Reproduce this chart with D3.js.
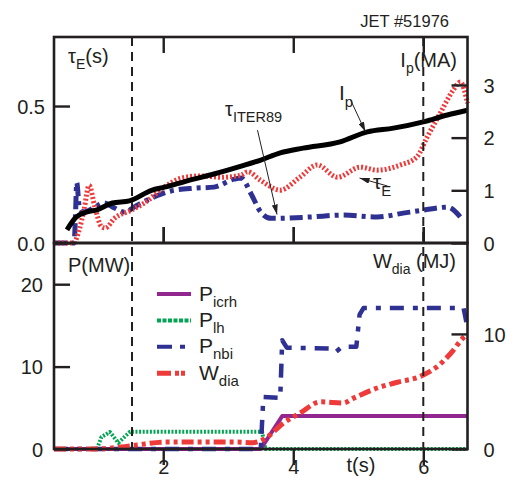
<!DOCTYPE html>
<html>
<head>
<meta charset="utf-8">
<script src="https://cdn.jsdelivr.net/npm/d3@7"></script>
<style>
  body { margin: 0; background: #fff; }
  text { font-family: "Liberation Sans", Arial, Helvetica, sans-serif; fill: #231f20; }
</style>
</head>
<body>
<div id="chart-area"></div>
<script>
// ---- data ----
// top panel: plasma current (MA, right axis)
var ipTime = [0.52, 0.66, 0.83, 0.98, 1.22, 1.48, 1.82, 2.02, 2.37, 2.78, 3.2, 3.49, 3.8, 4.15, 4.72, 5.14, 5.54, 6.0, 6.37, 6.68];
var ipVals = [0.25, 0.49, 0.59, 0.63, 0.76, 0.80, 1.0, 1.06, 1.18, 1.31, 1.46, 1.57, 1.71, 1.80, 1.92, 2.11, 2.18, 2.30, 2.43, 2.52];

// top panel: tau_E (s, left axis)
var tauTime = [0.32, 0.62, 0.71, 0.78, 0.86, 0.95, 1.05, 1.11, 1.25, 1.51, 1.71, 2.02, 2.28, 2.58, 2.9, 3.2, 3.3, 3.49, 3.8, 4.1, 4.37, 4.68, 5.03, 5.29, 5.65, 5.9, 6.06, 6.26, 6.46, 6.57, 6.68];
var tauVals = [0, 0, 0.05, 0.12, 0.21, 0.13, 0.06, 0.055, 0.09, 0.12, 0.146, 0.205, 0.237, 0.245, 0.24, 0.248, 0.26, 0.23, 0.193, 0.24, 0.285, 0.24, 0.277, 0.266, 0.285, 0.314, 0.387, 0.474, 0.558, 0.588, 0.51];

// top panel: tau_ITER89 (s, left axis)
var iterTime = [0.32, 0.63, 0.65, 0.67, 0.71, 0.78, 0.94, 1.09, 1.25, 1.4, 1.6, 1.86, 2.12, 2.48, 2.78, 3.09, 3.2, 3.35, 3.5, 3.66, 3.75, 4.26, 4.77, 5.29, 5.69, 6.0, 6.37, 6.57];
var iterVals = [0, 0, 0.1, 0.22, 0.13, 0.113, 0.13, 0.146, 0.128, 0.113, 0.138, 0.168, 0.19, 0.2, 0.204, 0.233, 0.237, 0.18, 0.113, 0.09, 0.09, 0.095, 0.102, 0.095, 0.109, 0.12, 0.131, 0.095];

// bottom panel: heating powers (MW, left axis)
var icrhTime = [0.32, 3.5, 3.83, 6.68];
var icrhVals = [0, 0, 4.0, 4.0];
var lhTime = [0.32, 0.98, 1.05, 1.18, 1.31, 1.49, 1.55, 3.52, 3.57, 6.68];
var lhVals = [0, 0, 1.45, 2.06, 0.75, 2.1, 2.1, 2.1, 0, 0];
var nbiTime = [0.32, 3.5, 3.54, 3.8, 3.83, 3.9, 4.6, 4.66, 4.75, 4.97, 5.02, 5.08, 6.62, 6.68];
var nbiVals = [0, 0, 6.3, 6.2, 13.2, 12.3, 12.2, 11.8, 12.4, 12.4, 16.3, 17.1, 17.1, 14.7];

// bottom panel: diamagnetic energy (MJ, right axis)
var wdiaTime = [0.32, 0.98, 1.35, 1.6, 2.02, 2.63, 3.14, 3.38, 3.6, 3.85, 4.1, 4.42, 4.77, 4.92, 5.29, 5.6, 5.95, 6.2, 6.42, 6.62, 6.66];
var wdiaVals = [0, 0, 0.17, 0.35, 0.6, 0.6, 0.6, 0.55, 1.04, 2.26, 3.1, 4.1, 4.0, 4.4, 5.3, 5.8, 6.3, 7.1, 8.3, 9.7, 9.9];

// ticks
var timeTicks = [2, 4, 6];
var tauTicks = [0.0, 0.5];
var ipTicks = [0, 1, 2, 3];
var powerTicks = [0, 10, 20];
var energyTicks = [0, 10];
var markerTimes = [1.52, 6.0];

var legendNames = [["P", "icrh"], ["P", "lh"], ["P", "nbi"], ["W", "dia"]];

// ---- layout ----
var width = 514, height = 477;
var left = 54, right = 467.5, top1 = 37, mid = 243, bottom = 449;

var svg = d3.select("#chart-area").append("svg")
    .attr("width", width)
    .attr("height", height);

// Scales
var x = d3.scaleLinear().domain([0.32, 6.68]).range([left, right]);
var yTau = d3.scaleLinear().domain([0, 0.752]).range([mid, top1]);
var yIp = d3.scaleLinear().domain([0, 3.91]).range([mid, top1]);
var yP = d3.scaleLinear().domain([0, 25]).range([bottom, mid]);
var yW = d3.scaleLinear().domain([0, 17.9]).range([bottom, mid]);

function zip(t, v) {
    return t.map(function(d, i) { return { t: d, v: v[i] }; });
}

function series(t, v, yScale, color, w, dash, curve) {
    var line = d3.line()
        .curve(curve || d3.curveLinear)
        .x(function(d) { return x(d.t); })
        .y(function(d) { return yScale(d.v); });
    svg.append("path")
        .attr("d", line(zip(t, v)))
        .attr("fill", "none")
        .attr("stroke", color)
        .attr("stroke-width", w)
        .attr("stroke-linejoin", "round")
        .attr("stroke-dasharray", dash || null);
}

var red = "#ef3a3a", blue = "#2e3192", purple = "#92278f", green = "#00a651";
var smooth = d3.curveMonotoneX;

// ---- data lines ----
series(iterTime, iterVals, yTau, blue, 5, "13,5,4,5", smooth);
series(tauTime, tauVals, yTau, red, 5, "2,2", smooth);
series(ipTime, ipVals, yIp, "#000", 5, null, smooth);

series(lhTime, lhVals, yP, green, 4, "2,1.6");
series(icrhTime, icrhVals, yP, purple, 4);
series(nbiTime, nbiVals, yP, blue, 4.5, "14,9,5,9");
series(wdiaTime, wdiaVals, yW, red, 5, "12,4,4,4,4,4", smooth);

// ---- vertical dashed markers ----
svg.selectAll(".marker")
    .data(markerTimes)
    .enter().append("line")
    .attr("class", "marker")
    .attr("x1", function(d) { return x(d); })
    .attr("x2", function(d) { return x(d); })
    .attr("y1", top1)
    .attr("y2", bottom)
    .attr("stroke", "#231f20")
    .attr("stroke-width", 2)
    .attr("stroke-dasharray", "9,6");

// ---- frames ----
[[top1, mid], [mid, bottom]].forEach(function(p) {
    svg.append("rect")
        .attr("x", left).attr("y", p[0])
        .attr("width", right - left).attr("height", p[1] - p[0])
        .attr("fill", "none")
        .attr("stroke", "#231f20")
        .attr("stroke-width", 2.6);
});

// Axes (ticks pointing inward)
var fs = 20;
function axis(gen, tx, ty, ticks, fmt) {
    var g = svg.append("g")
        .attr("transform", "translate(" + tx + "," + ty + ")")
        .call(gen.tickValues(ticks).tickSize(-16).tickPadding(0).tickFormat(fmt || ""));
    g.select(".domain").remove();
    g.selectAll(".tick line").attr("stroke", "#231f20").attr("stroke-width", 2.4);
    g.selectAll("text").attr("font-size", fs).attr("fill", "#231f20");
    return g;
}

// top panel
axis(d3.axisTop(x), 0, top1, timeTicks);
axis(d3.axisBottom(x), 0, mid, timeTicks);
axis(d3.axisLeft(yTau), left, 0, tauTicks, d3.format(".1f"))
    .selectAll("text").attr("x", -9).attr("dy", "0.36em");
axis(d3.axisRight(yIp), right, 0, ipTicks, d3.format("d"))
    .selectAll("text").attr("x", 16).attr("dy", "0.36em");

// bottom panel
axis(d3.axisTop(x), 0, bottom, timeTicks, d3.format("d"))
    .selectAll("text").attr("y", 25).attr("dy", 0);
axis(d3.axisBottom(x), 0, mid, timeTicks);
axis(d3.axisLeft(yP), left, 0, powerTicks, d3.format("d"))
    .selectAll("text").attr("x", -11).attr("dy", "0.36em");
axis(d3.axisRight(yW), right, 0, energyTicks, d3.format("d"))
    .selectAll("text").attr("x", 16).attr("dy", "0.36em");

// ---- labels ----
function label(px, py, main, sub, tail, size, subSize, anchor) {
    var t = svg.append("text")
        .attr("x", px).attr("y", py)
        .attr("font-size", size)
        .attr("text-anchor", anchor || "start");
    t.append("tspan").text(main);
    if (sub) t.append("tspan").attr("font-size", subSize).attr("dy", size * 0.32).text(sub);
    if (tail) t.append("tspan").attr("dy", -size * 0.32).text(tail);
    return t;
}

svg.append("text")
    .attr("x", 449).attr("y", 27)
    .attr("font-size", 16.5)
    .attr("text-anchor", "end")
    .text("JET #51976");

label(68, 63, "\u03c4", "E", "(s)", 20, 14);
label(457, 67, "I", "p", "(MA)", 20, 14, "end");
label(68, 272, "P(MW)", null, null, 20);
label(456, 268, "W", "dia", " (MJ)", 20, 14, "end");

label(339, 100, "I", "p", null, 21, 15);
label(373, 189, "\u03c4", "E", null, 21, 15);
label(225, 116, "\u03c4", "ITER89", null, 20, 14.5);

svg.append("text")
    .attr("x", 361).attr("y", 472)
    .attr("font-size", fs)
    .attr("text-anchor", "middle")
    .text("t(s)");

// ---- annotation arrows (data coords: tail -> tip) ----
var defs = svg.append("defs");
defs.append("marker")
    .attr("id", "arrow")
    .attr("viewBox", "0 0 10 6")
    .attr("refX", 10).attr("refY", 3)
    .attr("markerWidth", 10).attr("markerHeight", 6)
    .attr("markerUnits", "userSpaceOnUse")
    .attr("orient", "auto")
    .append("path").attr("d", "M0,0L10,3L0,6Z").attr("fill", "#231f20");

var arrows = [
    { t0: 4.88, v0: 2.72, t1: 5.11, v1: 2.11, y: yIp },
    { t0: 5.45, v0: 0.208, t1: 5.02, v1: 0.237, y: yTau },
    { t0: 3.45, v0: 0.412, t1: 3.75, v1: 0.104, y: yTau }
];
svg.selectAll(".arrow")
    .data(arrows)
    .enter().append("line")
    .attr("class", "arrow")
    .attr("x1", function(d) { return x(d.t0); })
    .attr("y1", function(d) { return d.y(d.v0); })
    .attr("x2", function(d) { return x(d.t1); })
    .attr("y2", function(d) { return d.y(d.v1); })
    .attr("stroke", "#231f20")
    .attr("stroke-width", 1)
    .attr("marker-end", "url(#arrow)");

// ---- legend ----
var legendStyles = [
    { color: purple, w: 4, dash: null },
    { color: green, w: 4, dash: "4,1.5" },
    { color: blue, w: 4, dash: "15,8,5,8" },
    { color: red, w: 5, dash: "14,4,4,2,4,8" }
];
var legend = svg.append("g").attr("transform", "translate(157,294)");
legendNames.forEach(function(n, i) {
    var row = legend.append("g").attr("transform", "translate(0," + (i * 26.4) + ")");
    row.append("line")
        .attr("x1", 0).attr("x2", 34)
        .attr("stroke", legendStyles[i].color)
        .attr("stroke-width", legendStyles[i].w)
        .attr("stroke-dasharray", legendStyles[i].dash);
    var t = row.append("text").attr("x", 42).attr("y", 6.5).attr("font-size", 21);
    t.append("tspan").text(n[0]);
    t.append("tspan").attr("font-size", 15).attr("dy", 6).text(n[1]);
});
</script>
</body>
</html>
